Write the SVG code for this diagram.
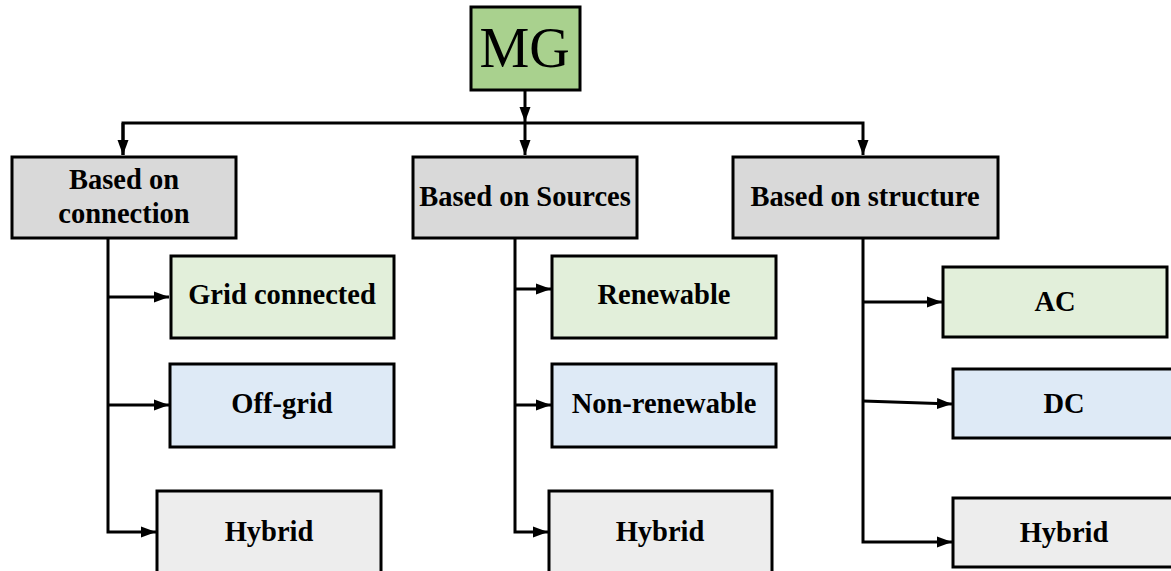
<svg xmlns="http://www.w3.org/2000/svg" width="1171" height="571" viewBox="0 0 1171 571">
<style>
.box{stroke:#000;stroke-width:3}
.cat{fill:#d9d9d9}
.grn{fill:#e2efda}
.blu{fill:#deeaf6}
.gry{fill:#ededed}
.t{font-family:"Liberation Serif","Times New Roman",serif;font-weight:bold;font-size:28.5px;fill:#000;text-anchor:middle}
.c{fill:none;stroke:#000;stroke-width:3}
</style>
<defs>
<marker id="ah" markerUnits="userSpaceOnUse" markerWidth="16" markerHeight="12" refX="15" refY="6" orient="auto">
<path d="M0,0.5 L15,6 L0,11.5 Z" fill="#000"/>
</marker>
</defs>
<rect width="1171" height="571" fill="#fff"/>
<g id="connectors">
<path class="c" d="M525,90 V122" marker-end="url(#ah)"/>
<path class="c" d="M123,155 V123 H863 V155" marker-end="url(#ah)"/>
<path class="c" d="M123,123 V155" marker-end="url(#ah)"/>
<path class="c" d="M525,123 V155" marker-end="url(#ah)"/>
<path class="c" d="M108,238 V532 H156" marker-end="url(#ah)"/>
<path class="c" d="M108,297 H169" marker-end="url(#ah)"/>
<path class="c" d="M108,405 H169" marker-end="url(#ah)"/>
<path class="c" d="M515,238 V532 H548" marker-end="url(#ah)"/>
<path class="c" d="M515,289 H551" marker-end="url(#ah)"/>
<path class="c" d="M515,405 H551" marker-end="url(#ah)"/>
<path class="c" d="M863,238 V542 H952" marker-end="url(#ah)"/>
<path class="c" d="M863,302 H942" marker-end="url(#ah)"/>
<path class="c" d="M863,401 L952,404" marker-end="url(#ah)"/>
</g>
<g id="mg">
<rect class="box" x="471" y="7" width="109" height="83" fill="#a9d18e"/>
<text x="524.5" y="67" font-family="Liberation Serif,Times New Roman,serif" font-size="56" text-anchor="middle">MG</text>
</g>
<g id="conn">
<rect class="box cat" x="12" y="157" width="224" height="81"/>
<text class="t" x="124" y="189">Based on</text>
<text class="t" x="124" y="223">connection</text>
</g>
<g id="src">
<rect class="box cat" x="413" y="157" width="224" height="81"/>
<text class="t" x="525" y="206">Based on Sources</text>
</g>
<g id="struct">
<rect class="box cat" x="733" y="157" width="265" height="81"/>
<text class="t" x="865" y="206">Based on structure</text>
</g>
<g id="grid">
<rect class="box grn" x="171" y="256" width="223" height="82"/>
<text class="t" x="282" y="304">Grid connected</text>
</g>
<g id="offgrid">
<rect class="box blu" x="170" y="364" width="224" height="83"/>
<text class="t" x="282" y="413">Off-grid</text>
</g>
<g id="hyb1">
<rect class="box gry" x="157" y="491" width="224" height="90"/>
<text class="t" x="269" y="541">Hybrid</text>
</g>
<g id="ren">
<rect class="box grn" x="552" y="256" width="224" height="82"/>
<text class="t" x="664" y="304">Renewable</text>
</g>
<g id="nonren">
<rect class="box blu" x="552" y="364" width="224" height="83"/>
<text class="t" x="664" y="413">Non-renewable</text>
</g>
<g id="hyb2">
<rect class="box gry" x="549" y="491" width="223" height="90"/>
<text class="t" x="660" y="541">Hybrid</text>
</g>
<g id="ac">
<rect class="box grn" x="943" y="267" width="224" height="70"/>
<text class="t" x="1055" y="311">AC</text>
</g>
<g id="dc">
<rect class="box blu" x="953" y="369" width="222" height="69"/>
<text class="t" x="1064" y="413">DC</text>
</g>
<g id="hyb3">
<rect class="box gry" x="953" y="498" width="222" height="69"/>
<text class="t" x="1064" y="542">Hybrid</text>
</g>
</svg>
